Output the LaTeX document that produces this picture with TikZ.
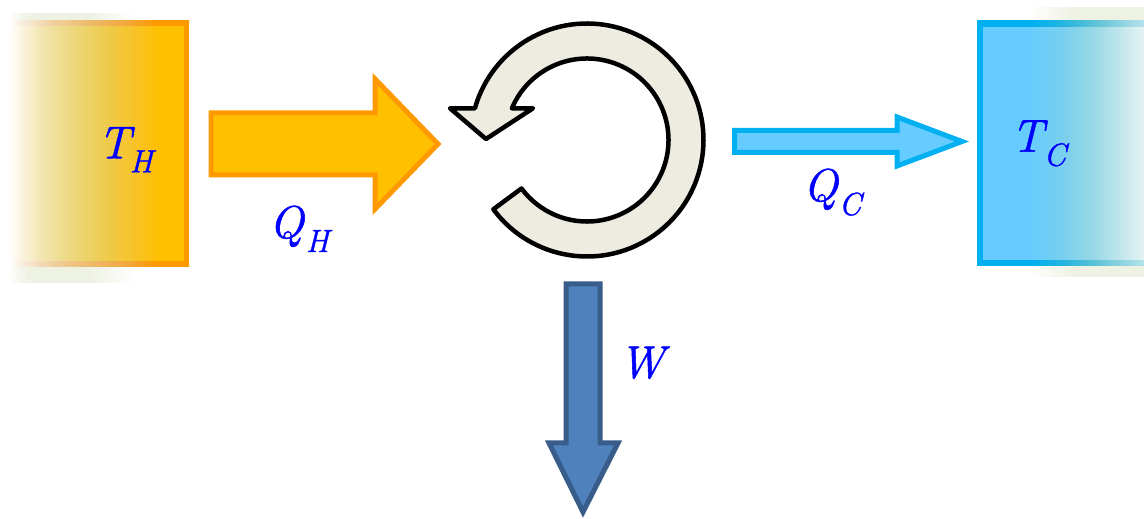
\documentclass[tikz,border=0pt]{standalone}
\usepackage{fontspec}
\usetikzlibrary{calc}

% slightly heavier italic for the symbols
\newfontfamily\symfont{Latin Modern Roman}[ItalicFeatures={FakeBold=1.2}]

% palette
\definecolor{gold}{HTML}{FFC000}
\definecolor{hotedge}{HTML}{FF9900}
\definecolor{coldfill}{HTML}{66CCFF}
\definecolor{coldedge}{HTML}{00B0F0}
\definecolor{workfill}{HTML}{4F81BD}
\definecolor{workedge}{HTML}{385D8A}
\definecolor{cyclefill}{HTML}{EEECE1}
\definecolor{labelblue}{HTML}{0000FF}
\definecolor{haze}{HTML}{EEF2E3}
% gradient stops of the hot reservoir
\definecolor{hfa}{HTML}{FBF5E2}
\definecolor{hfb}{HTML}{F2E4AC}
\definecolor{hfc}{HTML}{ECD678}
\definecolor{hfd}{HTML}{EECB4C}
\definecolor{hfe}{HTML}{F8C224}
\definecolor{hea}{HTML}{F8EBDD}
\definecolor{heb}{HTML}{F0CF9E}
\definecolor{hec}{HTML}{EDBB6C}
\definecolor{hed}{HTML}{F2A73E}
% gradient stops of the cold reservoir
\definecolor{cfa}{HTML}{76CFEF}
\definecolor{cfb}{HTML}{94D7E6}
\definecolor{cfc}{HTML}{B8E3EB}
\definecolor{cfd}{HTML}{E4F3F2}
\definecolor{cea}{HTML}{20B4E0}
\definecolor{ceb}{HTML}{55C0D6}
\definecolor{cec}{HTML}{8DD2E0}
\definecolor{ced}{HTML}{B5E2EA}

% left-to-right fades (the path is mapped onto 25bp..75bp)
\pgfdeclarehorizontalshading{hotfillfade}{100bp}{color(0bp)=(white); color(25bp)=(white);
  color(28.5bp)=(hfa); color(35bp)=(hfb); color(44bp)=(hfc); color(52.5bp)=(hfd);
  color(61bp)=(hfe); color(67.5bp)=(gold); color(100bp)=(gold)}
\pgfdeclarehorizontalshading{hotedgefade}{100bp}{color(0bp)=(white); color(25bp)=(white);
  color(29bp)=(hea); color(37.5bp)=(heb); color(47.5bp)=(hec); color(57.5bp)=(hed);
  color(66bp)=(hotedge); color(100bp)=(hotedge)}
\pgfdeclarehorizontalshading{coldfillfade}{100bp}{color(0bp)=(coldfill); color(40bp)=(coldfill);
  color(49.5bp)=(cfa); color(58.5bp)=(cfb); color(66bp)=(cfc); color(75bp)=(cfd); color(100bp)=(cfd)}
\pgfdeclarehorizontalshading{coldedgefade}{100bp}{color(0bp)=(coldedge); color(41bp)=(coldedge);
  color(50bp)=(cea); color(59bp)=(ceb); color(68bp)=(cec); color(75bp)=(ced); color(100bp)=(ced)}
\pgfdeclarehorizontalshading{hothaze}{100bp}{color(0bp)=(white); color(25bp)=(white);
  color(33bp)=(haze); color(57bp)=(haze); color(75bp)=(white); color(100bp)=(white)}
\pgfdeclarehorizontalshading{coldhaze}{100bp}{color(0bp)=(white); color(25bp)=(white);
  color(45bp)=(haze); color(75bp)=(haze); color(100bp)=(haze)}

% italic symbol with a lowered italic index; optional kern between them
\newcommand\symsub[3][2pt]{\textit{#2}\kern#1\raisebox{-14pt}{\fontsize{32}{36}\selectfont\textit{#3}}}

\tikzset{
  lbl/.style={inner sep=0pt, text=labelblue, font=\symfont\fontsize{46}{50}\selectfont},
  hotarrow/.style={draw=hotedge, fill=gold, line width=5pt},
  coldarrow/.style={draw=coldedge, fill=coldfill, line width=5pt},
  workarrow/.style={draw=workedge, fill=workfill, line width=5pt},
  cyclearrow/.style={draw=black, fill=cyclefill, line width=4.5pt, line join=round},
}

\begin{document}
\begin{tikzpicture}[x=1pt, y=1pt]
  \useasboundingbox (0,0) rectangle (1144,519);
  \fill[white] (0,0) rectangle (1144,519);

  % hot reservoir
  \shade[shading=hothaze] (8,236) rectangle (135,505);
  \shade[shading=hotfillfade] (8,254.5) rectangle (186.5,495.5);
  \shade[shading=hotedgefade] (8,493) rectangle (189,498);
  \shade[shading=hotedgefade] (8,252) rectangle (189,257);
  \fill[hotedge] (184,252) rectangle (189,498);
  \node[lbl, anchor=base west] (TH) at (98,360.7) {\symsub[-5pt]{T}{H}};

  % cold reservoir
  \shade[shading=coldhaze] (1028,242) rectangle (1144,511);
  \shade[shading=coldfillfade] (980,255.5) rectangle (1144,495);
  \shade[shading=coldedgefade] (977,492.5) rectangle (1144,498);
  \shade[shading=coldedgefade] (977,253) rectangle (1144,258);
  \fill[coldedge] (977,253) rectangle (983,498);
  \node[lbl, anchor=base west] (TC) at (1011,367.3) {\symsub[-4pt]{T}{C}};

  % heat flowing in
  \draw[hotarrow] (211,406) -- (375,406) -- (375,440) -- (438,375) -- (375,310)
    -- (375,344) -- (211,344) -- cycle;
  \node[lbl, anchor=base west] (QH) at (269,281) {\symsub[1pt]{Q}{H}};

  % the cycle
  \coordinate (cyc) at (587,379);
  \draw[cyclearrow] ($(cyc)+(-143.5:116.5)$)
    arc[start angle=-143.5, end angle=164.2, radius=116.5]
    -- (450,410.7) -- (486,380) -- (533,410.7)
    -- ($(cyc)+(157.1:81.5)$)
    arc[start angle=157.1, end angle=-143.5, radius=81.5] -- cycle;

  % heat rejected
  \draw[coldarrow] (734.5,388.5) -- (897,388.5) -- (897,402) -- (962,377.5)
    -- (897,353) -- (897,366.5) -- (734.5,366.5) -- cycle;
  \node[lbl, anchor=base west] (QC) at (803,318) {\symsub[0pt]{Q}{C}};

  % work output
  \draw[workarrow] (566,235) -- (600,235) -- (600,76) -- (618,76) -- (583,7)
    -- (549,76) -- (566,76) -- cycle;
  \node[lbl, anchor=base west] (W) at (619,141) {\textit{W}};
\end{tikzpicture}
\end{document}
